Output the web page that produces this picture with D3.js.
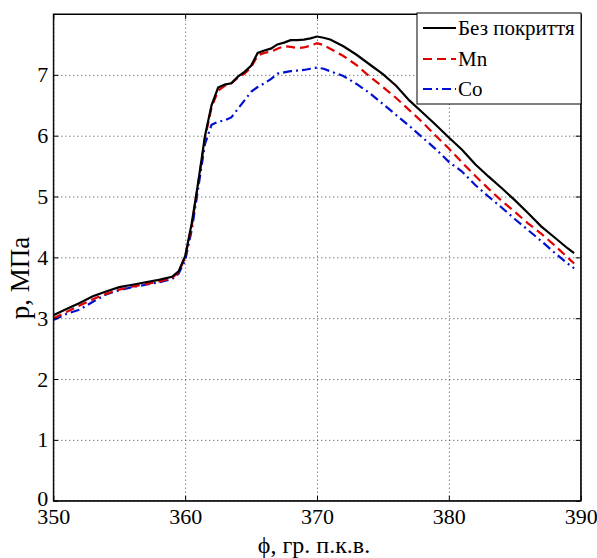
<!DOCTYPE html>
<html>
<head>
<meta charset="utf-8">
<script src="https://cdn.jsdelivr.net/npm/d3@7/dist/d3.min.js"></script>
<style>
  body { margin: 0; background: #fff; }
  .grid line { stroke: #444; stroke-dasharray: 1,3; stroke-width: 1; }
  .grid path { display: none; }
  .axis path, .axis line { stroke: #000; }
</style>
</head>
<body>
<div id="chart"></div>
<script>
// crank angle (deg) and cylinder pressure (MPa)
const phi = [350, 351, 352, 353, 354, 355, 356, 357, 358, 359, 359.5, 360, 360.5, 361, 361.5, 362, 362.5, 363, 363.5, 364,
  364.5, 365, 365.5, 366, 366.5, 367, 367.5, 368, 368.5, 369, 369.5, 370, 370.5, 371, 372, 373, 374, 375, 376, 377,
  378, 379, 380, 381, 382, 383, 384, 385, 386, 387, 388, 389, 389.5];

const pBase = [3.05, 3.15, 3.25, 3.36, 3.44, 3.51, 3.55, 3.59, 3.63, 3.68, 3.77, 4.02, 4.56, 5.25, 5.99, 6.50, 6.79, 6.84, 6.86, 6.97,
  7.05, 7.15, 7.36, 7.40, 7.43, 7.50, 7.53, 7.57, 7.57, 7.58, 7.60, 7.63, 7.61, 7.58, 7.47, 7.33, 7.17, 7.01, 6.82, 6.58,
  6.38, 6.18, 5.97, 5.77, 5.53, 5.33, 5.14, 4.94, 4.73, 4.51, 4.33, 4.15, 4.07];

const pMn = [3.00, 3.10, 3.21, 3.31, 3.40, 3.47, 3.52, 3.56, 3.60, 3.66, 3.75, 4.00, 4.52, 5.22, 5.96, 6.46, 6.74, 6.82, 6.86, 6.95,
  7.02, 7.12, 7.32, 7.36, 7.38, 7.43, 7.47, 7.46, 7.44, 7.45, 7.48, 7.52, 7.49, 7.43, 7.31, 7.16, 6.97, 6.80, 6.62, 6.42,
  6.22, 6.00, 5.79, 5.56, 5.34, 5.13, 4.93, 4.75, 4.56, 4.39, 4.20, 4.00, 3.90];

const pCo = [2.97, 3.07, 3.14, 3.27, 3.39, 3.46, 3.51, 3.55, 3.59, 3.64, 3.73, 3.95, 4.45, 5.15, 5.86, 6.18, 6.23, 6.25, 6.30, 6.44,
  6.58, 6.72, 6.80, 6.86, 6.93, 7.02, 7.04, 7.06, 7.07, 7.08, 7.10, 7.12, 7.10, 7.06, 6.98, 6.85, 6.70, 6.52, 6.34, 6.16,
  5.97, 5.78, 5.57, 5.41, 5.19, 5.00, 4.82, 4.63, 4.45, 4.27, 4.08, 3.90, 3.82];

const seriesNames = ["Без покриття", "Mn", "Co"];
const xTicks = [350, 360, 370, 380, 390];
const yTicks = [0, 1, 2, 3, 4, 5, 6, 7];

const serif = '"Liberation Serif"';

const width = 597, height = 558;
const margin = { top: 14, right: 16.3, bottom: 57.3, left: 53.3 };

const svg = d3.select("#chart").append("svg")
  .attr("width", width)
  .attr("height", height);

const x = d3.scaleLinear().domain([350, 390]).range([margin.left, width - margin.right]);
const y = d3.scaleLinear().domain([0, 8]).range([height - margin.bottom, margin.top]);

// dotted grid
svg.append("g")
  .attr("class", "grid")
  .attr("transform", `translate(0, ${height - margin.bottom})`)
  .call(d3.axisBottom(x).tickValues(xTicks).tickSize(-(y.range()[0] - y.range()[1])).tickFormat(""));

svg.append("g")
  .attr("class", "grid")
  .attr("transform", `translate(${margin.left}, 0)`)
  .call(d3.axisLeft(y).tickValues(yTicks).tickSize(-(x.range()[1] - x.range()[0])).tickFormat(""));

// curves
const styles = [
  { color: "#000000", dash: null },
  { color: "#e00000", dash: "9,5" },
  { color: "#0010d0", dash: "9,4,2,4" }
];
const allP = [pBase, pMn, pCo];

const line = d3.line()
  .x(d => x(d[0]))
  .y(d => y(d[1]));

// draw Co first so black ends up on top
[2, 1, 0].forEach(i => {
  svg.append("path")
    .datum(phi.map((f, j) => [f, allP[i][j]]))
    .attr("fill", "none")
    .attr("stroke", styles[i].color)
    .attr("stroke-width", 2.2)
    .attr("stroke-dasharray", styles[i].dash)
    .attr("d", line);
});

// axes, ticks pointing inward (matlab style)
const xAxis = svg.append("g")
  .attr("class", "axis")
  .attr("transform", `translate(0, ${height - margin.bottom})`)
  .call(d3.axisBottom(x).tickValues(xTicks).tickSizeInner(-5).tickSizeOuter(0).tickPadding(8));

const yAxis = svg.append("g")
  .attr("class", "axis")
  .attr("transform", `translate(${margin.left}, 0)`)
  .call(d3.axisLeft(y).tickValues(yTicks).tickSizeInner(-5).tickSizeOuter(0).tickPadding(5));

svg.append("g")
  .attr("class", "axis")
  .attr("transform", `translate(0, ${margin.top})`)
  .call(d3.axisTop(x).tickValues(xTicks).tickSizeInner(-5).tickSizeOuter(0).tickFormat(""));

svg.append("g")
  .attr("class", "axis")
  .attr("transform", `translate(${width - margin.right}, 0)`)
  .call(d3.axisRight(y).tickValues(yTicks).tickSizeInner(-5).tickSizeOuter(0).tickFormat(""));

svg.selectAll(".axis text")
  .style("font-family", serif)
  .style("font-size", "22px");
xAxis.selectAll("text").attr("dy", "0.71em");
yAxis.selectAll("text").filter(d => d === 0).attr("dy", "0.2em");

// frame
svg.append("rect")
  .attr("x", margin.left)
  .attr("y", margin.top)
  .attr("width", x.range()[1] - x.range()[0])
  .attr("height", y.range()[0] - y.range()[1])
  .attr("fill", "none")
  .attr("stroke", "#000")
  .attr("stroke-width", 1);

// axis titles
svg.append("text")
  .attr("x", 314)
  .attr("y", 553)
  .attr("text-anchor", "middle")
  .style("font-family", serif)
  .style("font-size", "24px")
  .text("ϕ, гр. п.к.в.");

svg.append("text")
  .attr("transform", "translate(29, 278) rotate(-90)")
  .attr("text-anchor", "middle")
  .style("font-family", serif)
  .style("font-size", "27px")
  .text("p, МПа");

// legend
const legend = svg.append("g").attr("transform", "translate(417, 13)");
legend.append("rect")
  .attr("width", 164)
  .attr("height", 91)
  .attr("fill", "#fff")
  .attr("stroke", "#000")
  .attr("stroke-width", 1);

const rowY = [15, 46, 76];
seriesNames.forEach((name, i) => {
  legend.append("line")
    .attr("x1", 6).attr("x2", 39)
    .attr("y1", rowY[i]).attr("y2", rowY[i])
    .attr("stroke", styles[i].color)
    .attr("stroke-width", 2.2)
    .attr("stroke-dasharray", styles[i].dash);
  legend.append("text")
    .attr("x", 41)
    .attr("y", rowY[i])
    .attr("dy", "0.35em")
    .style("font-family", serif)
    .style("font-size", "21px")
    .text(name);
});
</script>
</body>
</html>
